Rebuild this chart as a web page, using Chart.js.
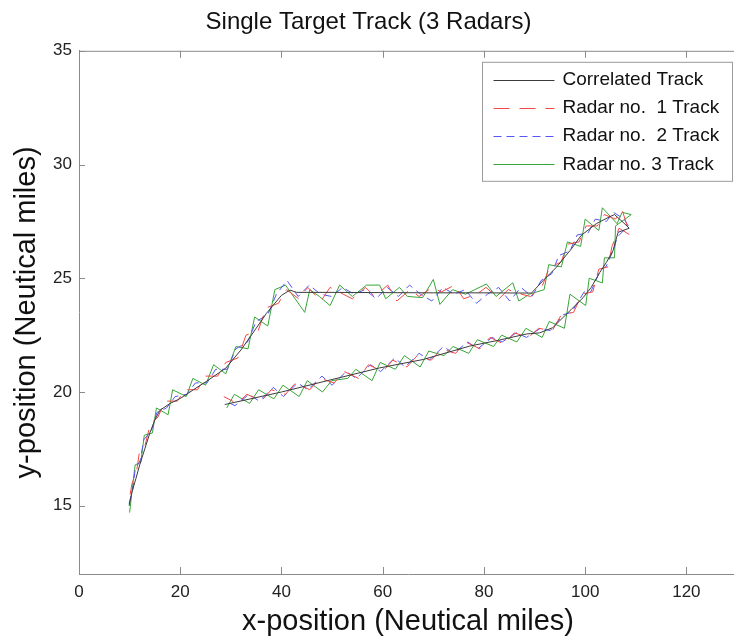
<!DOCTYPE html>
<html>
<head>
<meta charset="utf-8">
<script src="https://cdn.jsdelivr.net/npm/chart.js@4/dist/chart.umd.min.js"></script>
<style>
  html, body { margin: 0; padding: 0; background: #fff; overflow: hidden; }
  #wrap { width: 737px; height: 639px; }
</style>
</head>
<body>
<div id="wrap"><canvas id="trackChart"></canvas></div>
<script>
// tick labels
const xTicks = [0, 20, 40, 60, 80, 100, 120];
const yTicks = [15, 20, 25, 30, 35];
const seriesNames = ['Correlated Track', 'Radar no.  1 Track', 'Radar no.  2 Track', 'Radar no. 3 Track'];

// correlated (fused) track, [x, y] in nautical miles
const trackPts = [
  [9.9, 15.0], [10.4, 15.55], [11.25, 16.2], [12.0, 16.8], [13.0, 17.5], [14.0, 18.2], [15.0, 18.78],
  [16.0, 19.2], [18.0, 19.5], [19.6, 19.67], [20.6, 19.8], [22.6, 20.1], [25.2, 20.47], [29.0, 21.05],
  [32.0, 21.85], [35.0, 22.8], [37.0, 23.45], [40.0, 24.25], [41.7, 24.48], [43.0, 24.38], [50.0, 24.38],
  [60.0, 24.37], [70.0, 24.36], [80.0, 24.36], [89.4, 24.35], [91.7, 24.9], [94.3, 25.48], [97.3, 26.3],
  [99.2, 26.88], [102.2, 27.4], [104.8, 27.7], [105.8, 27.8], [107.5, 27.46], [108.7, 27.2], [106.5, 27.02],
  [105.5, 26.21], [104.2, 25.7], [102.9, 25.26], [101.2, 24.6], [99.6, 24.15], [97.3, 23.64], [95.6, 23.27],
  [93.6, 22.83], [91.0, 22.6], [88.4, 22.55], [83.0, 22.28], [77.2, 22.02], [68.0, 21.43], [59.4, 21.06],
  [50.0, 20.55], [40.0, 20.0], [28.8, 19.45]
];

// radar no. 1 measurements
const radar1Pts = [
  [10.1, 15.5], [10.5, 16.0], [11.3, 16.4], [11.9, 17.3], [13.1, 17.7], [14.1, 18.6], [15.6, 18.9],
  [17.0, 19.6], [19.4, 19.6], [21.0, 20.1], [23.4, 20.1], [25.0, 20.7], [27.4, 20.7], [29.0, 21.3],
  [31.4, 21.5], [33.0, 22.5], [35.4, 22.7], [37.0, 23.7], [39.4, 23.9], [41.0, 24.5], [43.4, 24.1],
  [45.2, 24.6], [47.8, 24.0], [49.6, 24.6], [52.2, 24.3], [54.0, 24.1], [56.6, 24.6], [58.4, 24.2],
  [61.0, 24.7], [62.8, 24.0], [65.4, 24.5], [67.2, 24.2], [69.8, 24.6], [71.6, 24.4], [74.2, 24.7],
  [76.0, 24.1], [78.6, 24.3], [80.4, 24.6], [83.0, 24.1], [84.8, 24.5], [87.4, 24.3], [89.2, 24.2],
  [91.6, 24.7], [93.0, 25.5], [95.2, 25.7], [96.6, 26.5], [98.8, 26.6], [100.2, 27.3], [102.4, 27.3],
  [103.8, 27.8], [106.0, 27.6], [107.3, 28.0], [108.9, 26.9], [106.7, 27.2], [105.3, 26.4], [104.5, 25.5],
  [102.7, 25.4], [101.5, 24.4], [99.4, 24.3], [97.7, 23.5], [95.3, 23.4], [93.5, 22.7], [90.8, 22.8],
  [88.8, 22.4], [86.0, 22.6], [84.0, 22.1], [81.2, 22.4], [79.2, 21.9], [76.4, 22.2], [74.4, 21.7],
  [71.6, 21.9], [69.6, 21.4], [66.8, 21.6], [64.8, 21.1], [62.0, 21.4], [60.0, 20.9], [57.2, 21.2],
  [55.2, 20.6], [52.4, 20.9], [50.4, 20.4], [47.6, 20.6], [45.6, 20.1], [42.8, 20.4], [40.8, 19.9],
  [38.0, 20.1], [36.0, 19.6], [33.2, 19.9], [31.2, 19.5], [28.6, 19.8]
];

// radar no. 2 measurements
const radar2Pts = [
  [9.9, 15.1], [10.6, 15.7], [11.1, 16.6], [12.1, 17.0], [12.8, 17.9], [14.3, 18.3], [15.4, 19.1],
  [17.3, 19.3], [19.0, 19.8], [21.3, 19.9], [23.0, 20.4], [25.3, 20.4], [27.0, 21.0], [29.3, 21.0],
  [31.0, 21.9], [33.3, 22.2], [35.0, 23.1], [37.3, 23.4], [39.0, 24.3], [41.1, 24.9], [43.3, 24.2],
  [45.5, 24.7], [47.7, 24.3], [49.9, 24.2], [52.1, 24.6], [54.3, 24.3], [56.5, 24.5], [58.7, 24.1],
  [60.9, 24.6], [63.1, 24.2], [65.3, 24.7], [67.5, 24.3], [69.7, 24.0], [71.9, 24.6], [74.1, 24.3],
  [76.3, 24.5], [78.5, 23.9], [80.7, 24.3], [82.9, 24.6], [85.1, 24.0], [87.3, 24.6], [89.5, 24.2],
  [91.3, 24.9], [93.4, 25.2], [94.8, 26.0], [97.0, 26.2], [98.4, 26.9], [100.6, 27.0], [102.0, 27.6],
  [104.2, 27.5], [105.6, 27.9], [107.7, 27.6], [108.5, 27.3], [106.3, 26.8], [105.7, 26.3], [104.1, 25.5],
  [103.1, 25.4], [101.1, 24.4], [99.8, 24.4], [97.3, 23.5], [95.7, 23.4], [93.1, 22.7], [91.2, 22.8],
  [88.4, 22.4], [86.4, 22.6], [83.6, 22.2], [81.6, 22.4], [78.8, 21.9], [76.8, 22.2], [74.0, 21.7],
  [72.0, 22.0], [69.2, 21.4], [67.2, 21.7], [64.4, 21.1], [62.4, 21.5], [59.6, 20.9], [57.6, 21.2],
  [54.8, 20.6], [52.8, 20.9], [50.0, 20.3], [48.0, 20.7], [45.2, 20.1], [43.2, 20.4], [40.4, 19.8],
  [38.4, 20.2], [35.6, 19.6], [33.6, 19.9], [30.8, 19.4], [29.0, 19.6]
];

// radar no. 3 measurements (noisiest)
const radar3Pts = [
  [10.0, 14.7], [10.6, 15.9], [11.1, 16.8], [12.2, 16.9], [12.9, 18.1], [14.5, 18.2], [15.3, 19.3],
  [17.6, 19.0], [18.5, 20.1], [21.2, 19.8], [22.5, 20.6], [25.0, 20.3], [26.6, 21.2], [29.0, 20.8],
  [31.0, 22.0], [33.4, 21.9], [34.7, 23.3], [37.3, 22.9], [38.7, 24.5], [40.8, 24.7], [44.6, 23.5],
  [45.6, 24.5], [47.5, 24.2], [49.6, 23.8], [51.5, 24.7], [54.0, 24.2], [56.8, 24.7], [59.4, 24.7],
  [60.6, 24.1], [63.3, 24.6], [64.9, 24.2], [67.9, 24.15], [70.0, 24.95], [71.3, 23.85], [73.8, 24.5],
  [76.4, 24.3], [78.2, 24.5], [80.5, 24.75], [82.4, 24.2], [85.7, 24.8], [86.9, 24.0], [89.0, 24.3],
  [91.9, 24.5], [92.8, 25.6], [95.3, 25.5], [96.5, 26.6], [99.1, 26.4], [100.0, 27.6], [102.7, 27.1],
  [103.4, 28.1], [106.3, 27.4], [107.3, 27.9], [109.1, 27.8], [106.0, 27.3], [105.8, 25.9], [103.8, 25.9],
  [103.4, 24.8], [100.8, 25.0], [100.1, 23.8], [97.0, 24.3], [95.9, 22.8], [92.9, 23.1], [91.5, 22.4],
  [88.3, 22.8], [86.5, 22.2], [83.5, 22.5], [81.9, 22.0], [78.7, 22.3], [77.0, 21.7], [73.9, 22.0],
  [72.1, 21.6], [69.1, 21.8], [67.4, 21.1], [64.3, 21.6], [62.5, 21.0], [59.5, 21.3], [57.9, 20.5],
  [54.7, 21.0], [53.1, 20.6], [49.9, 20.5], [48.1, 20.0], [45.1, 20.5], [43.5, 19.8], [40.3, 20.3],
  [38.5, 19.7], [35.5, 20.1], [33.7, 19.5], [30.7, 19.9], [29.2, 19.3]
];

const FONT = '"Liberation Sans", Arial, Helvetica, sans-serif';
const AXIS_COLOR = '#8a8a8a';

function toXY(pts) {
  return pts.map(p => ({ x: p[0], y: p[1] }));
}

// matlab-like box: top border, inward tick marks, legend box in the top right corner
const matlabBox = {
  id: 'matlabBox',
  afterDraw(chart) {
    const ctx = chart.ctx;
    const area = chart.chartArea;
    const xs = chart.scales.x;
    const ys = chart.scales.y;
    ctx.save();
    ctx.strokeStyle = AXIS_COLOR;
    ctx.lineWidth = 1;
    ctx.beginPath();
    ctx.moveTo(area.left, area.top + 0.5);
    ctx.lineTo(area.right, area.top + 0.5);
    xTicks.forEach(v => {
      const px = Math.round(xs.getPixelForValue(v)) + 0.5;
      ctx.moveTo(px, area.bottom);
      ctx.lineTo(px, area.bottom - 7);
      ctx.moveTo(px, area.top);
      ctx.lineTo(px, area.top + 7);
    });
    yTicks.forEach(v => {
      const py = Math.round(ys.getPixelForValue(v)) + 0.5;
      ctx.moveTo(area.left, py);
      ctx.lineTo(area.left + 6, py);
    });
    ctx.stroke();

    // legend
    const bx = area.right - 254.5, by = area.top + 11.5, bw = 250, bh = 119;
    ctx.fillStyle = '#fff';
    ctx.fillRect(bx, by, bw, bh);
    ctx.strokeStyle = '#9a9a9a';
    ctx.strokeRect(bx, by, bw, bh);
    ctx.font = '19px ' + FONT;
    ctx.textBaseline = 'middle';
    chart.data.datasets.forEach((ds, i) => {
      const y = by + 17.5 + i * 28.2;
      ctx.strokeStyle = ds.borderColor;
      ctx.lineWidth = 1;
      ctx.setLineDash(ds.borderDash || []);
      ctx.beginPath();
      ctx.moveTo(bx + 11, Math.round(y) + 0.5);
      ctx.lineTo(bx + 72, Math.round(y) + 0.5);
      ctx.stroke();
      ctx.setLineDash([]);
      ctx.fillStyle = '#111';
      ctx.fillText(ds.label, bx + 80, y);
    });
    ctx.restore();
  }
};

const ctx = document.getElementById('trackChart').getContext('2d');
new Chart(ctx, {
  type: 'scatter',
  data: {
    datasets: [
      { label: seriesNames[0], data: toXY(trackPts), borderColor: 'rgb(60,60,60)', borderWidth: 1 },
      { label: seriesNames[1], data: toXY(radar1Pts), borderColor: 'rgb(245,70,70)', borderWidth: 1, borderDash: [16, 10] },
      { label: seriesNames[2], data: toXY(radar2Pts), borderColor: 'rgb(85,85,250)', borderWidth: 1, borderDash: [8, 5] },
      { label: seriesNames[3], data: toXY(radar3Pts), borderColor: 'rgb(55,165,55)', borderWidth: 1 }
    ]
  },
  options: {
    responsive: true,
    maintainAspectRatio: false,
    animation: false,
    showLine: true,
    elements: {
      point: { radius: 0, hoverRadius: 0 },
      line: { tension: 0, fill: false }
    },
    layout: { padding: 0 },
    plugins: {
      legend: { display: false },
      tooltip: { enabled: false },
      title: {
        display: true,
        text: 'Single Target Track (3 Radars)',
        color: '#111',
        font: { family: FONT, size: 24, weight: 'normal' },
        padding: { top: 8, bottom: 14 }
      }
    },
    scales: {
      x: {
        type: 'linear',
        min: 0,
        max: 130,
        afterBuildTicks: s => { s.ticks = xTicks.map(v => ({ value: v })); },
        afterFit: s => { s.height = 65; },
        grid: { display: false, drawTicks: false },
        border: { display: true, color: AXIS_COLOR, width: 1 },
        ticks: { color: '#222', padding: 8, font: { family: FONT, size: 17 }, maxRotation: 0, autoSkip: false },
        title: {
          display: true,
          text: 'x-position (Neutical miles)',
          color: '#111',
          font: { family: FONT, size: 29 },
          padding: { top: 0, bottom: 0 }
        }
      },
      y: {
        type: 'linear',
        min: 12,
        max: 35,
        afterBuildTicks: s => { s.ticks = yTicks.map(v => ({ value: v })); },
        afterFit: s => { s.width = 79; },
        grid: { display: false, drawTicks: false },
        border: { display: true, color: AXIS_COLOR, width: 1 },
        ticks: { color: '#222', padding: 7, font: { family: FONT, size: 17 }, autoSkip: false },
        title: {
          display: true,
          text: 'y-position (Neutical miles)',
          color: '#111',
          font: { family: FONT, size: 29 },
          padding: { top: 10, bottom: 0 }
        }
      }
    }
  },
  plugins: [matlabBox]
});
</script>
</body>
</html>
